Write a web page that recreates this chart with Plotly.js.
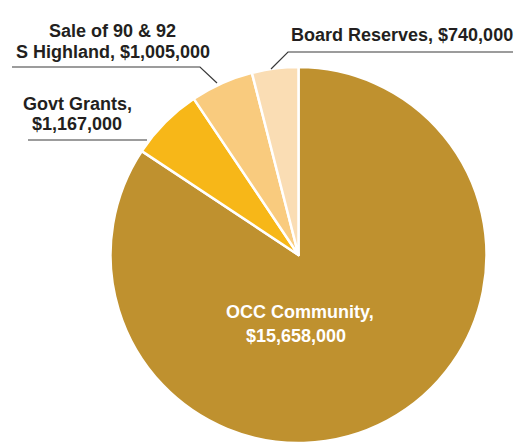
<!DOCTYPE html>
<html><head><meta charset="utf-8">
<script src="https://cdn.plot.ly/plotly-3.0.1.min.js"></script>
<style>html,body{margin:0;padding:0;background:#fff}</style>
</head><body><div id="chart" style="width:516px;height:443px"></div>
<script>
const labels = ["OCC Community", "Govt Grants", "Sale of 90 & 92 S Highland", "Board Reserves"];
const values = [15658000, 1167000, 1005000, 740000];
const colors = ["#BF912F", "#F7B718", "#F9CB7E", "#FADDB4"];

const W = 516, H = 443;
const px = x => x / W, py = y => 1 - y / H;
const fmt = v => "$" + v.toLocaleString("en-US");
const FONT = "'Liberation Sans', Arial, sans-serif";
const dark = "#231f20";

function ann(text, x, y, color, size) {
  return {text: "<b>" + text + "</b>", x: px(x), y: py(y), xref: "paper", yref: "paper",
    xanchor: "center", yanchor: "middle", showarrow: false,
    font: {family: FONT, size: size || 18, color: color || dark}};
}

const annotations = [
  ann("Sale of 90 & 92", 112, 31),
  ann("S Highland, " + fmt(values[2]), 112.5, 51.5),
  ann("Govt Grants,", 77.5, 104),
  ann(fmt(values[1]), 76.5, 124),
  ann(labels[3] + ", " + fmt(values[3]), 401.5, 35),
  ann(labels[0] + ",", 299.5, 312, "#fff"),
  ann(fmt(values[0]), 296, 336, "#fff")
];

function path(pts) {
  return pts.map((p, i) => (i ? "L" : "M") + px(p[0]) + "," + py(p[1])).join(" ");
}
const lineStyle = {color: "#3a3a3a", width: 1.2};
const shapes = [
  {type: "path", xref: "paper", yref: "paper", path: path([[12, 67], [200, 67], [217, 83]]), line: lineStyle},
  {type: "path", xref: "paper", yref: "paper", path: path([[28, 140], [147, 140]]), line: lineStyle},
  {type: "path", xref: "paper", yref: "paper", path: path([[513, 52], [288, 52], [271, 69]]), line: lineStyle}
];

const trace = {
  type: "pie", labels: labels, values: values, sort: false, direction: "clockwise", rotation: 0,
  textinfo: "none", hoverinfo: "none",
  marker: {colors: colors, line: {color: "#fff", width: 2.5}},
  domain: {x: [px(110.5), px(486.5)], y: [0, py(67)]}
};

Plotly.newPlot("chart", [trace], {
  width: W, height: H, margin: {l: 0, r: 0, t: 0, b: 0},
  showlegend: false, paper_bgcolor: "#fff",
  annotations: annotations, shapes: shapes
}, {staticPlot: true});
</script></body></html>
